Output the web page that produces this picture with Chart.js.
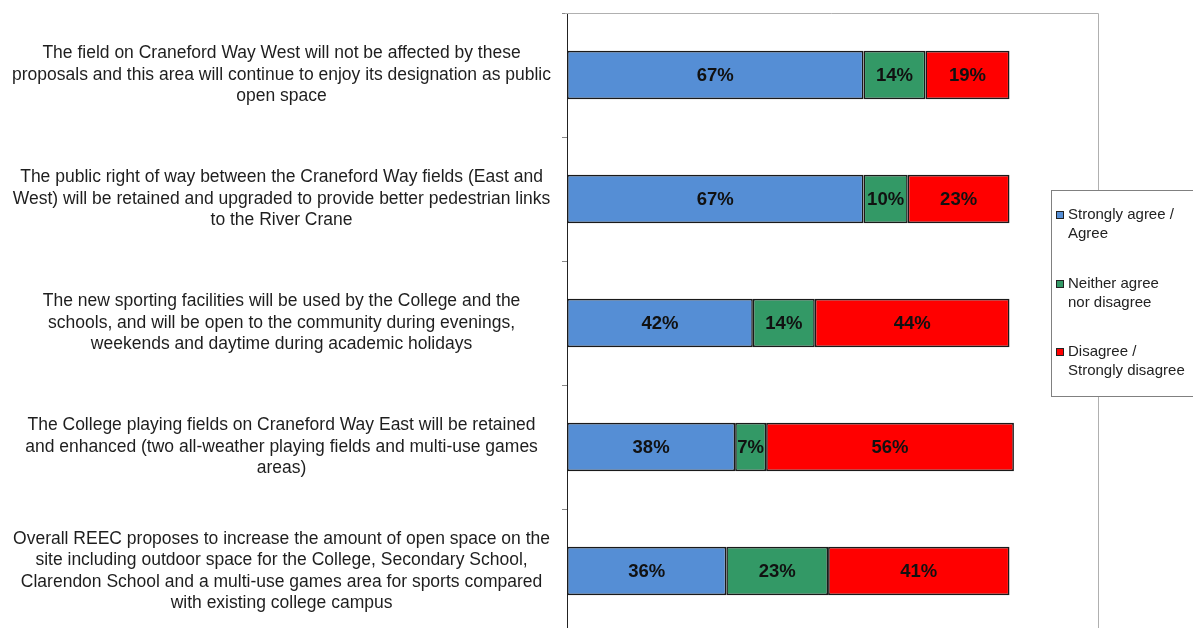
<!DOCTYPE html>
<html><head><meta charset="utf-8">
<script src="https://cdn.jsdelivr.net/npm/chart.js@4.4.1/dist/chart.umd.min.js"></script>
<style>html,body{margin:0;padding:0;background:#fff;overflow:hidden;}#wrap{width:1193px;height:640px;position:relative;}</style>
</head><body><div id="wrap"><canvas id="c" width="1193" height="640"></canvas></div>
<script>
const categories = [
  ["The field on Craneford Way West will not be affected by these","proposals and this area will continue to enjoy its designation as public","open space"],
  ["The public right of way between the Craneford Way fields (East and","West) will be retained and upgraded to provide better pedestrian links","to the River Crane"],
  ["The new sporting facilities will be used by the College and the","schools, and will be open to the community during evenings,","weekends and daytime during academic holidays"],
  ["The College playing fields on Craneford Way East will be retained","and enhanced (two all-weather playing fields and multi-use games","areas)"],
  ["Overall REEC proposes to increase the amount of open space on the","site including outdoor space for the College, Secondary School,","Clarendon School and a multi-use games area for sports compared","with existing college campus"]
];
const seriesNames = [["Strongly agree /","Agree"],["Neither agree","nor disagree"],["Disagree /","Strongly disagree"]];
const agree = [67, 67, 42, 38, 36];
const neither = [14, 10, 14, 7, 23];
const disagree = [19, 23, 44, 56, 41];
const colors = ["#558ED5", "#339966", "#FF0000"];
const FONT = "'Liberation Sans', Arial, sans-serif";

const valueLabels = {
  id: 'valueLabels',
  afterDatasetsDraw(chart) {
    const ctx = chart.ctx;
    ctx.save();
    ctx.font = "bold 18.5px " + FONT;
    ctx.fillStyle = "#111";
    ctx.textAlign = "center";
    ctx.textBaseline = "middle";
    chart.data.datasets.forEach((ds, i) => {
      chart.getDatasetMeta(i).data.forEach((el, j) => {
        const cx = (el.x + el.base) / 2;
        ctx.fillText(ds.data[j] + "%", cx, el.y + 1);
      });
    });
    ctx.restore();
  }
};

const frame = {
  id: 'frame',
  beforeDatasetsDraw(chart) {
    const {ctx, chartArea: a} = chart;
    ctx.save();
    ctx.strokeStyle = "#b0b0b0";
    ctx.lineWidth = 1;
    ctx.beginPath();
    ctx.moveTo(a.left - 2, a.top + 0.5);
    ctx.lineTo(a.right + 0.5, a.top + 0.5);
    ctx.lineTo(a.right + 0.5, a.bottom);
    ctx.stroke();
    ctx.restore();
  }
};

const boxLegend = {
  id: 'boxLegend',
  afterDraw(chart) {
    const ctx = chart.ctx;
    ctx.save();
    ctx.fillStyle = "#fff";
    ctx.fillRect(1051, 190, 150, 206);
    ctx.strokeStyle = "#808080";
    ctx.lineWidth = 1;
    ctx.strokeRect(1051.5, 190.5, 150, 206);
    ctx.font = "15px " + FONT;
    ctx.textBaseline = "middle";
    ctx.textAlign = "left";
    const ys = [215, 284, 352];
    chart.data.datasets.forEach((ds, i) => {
      const y = ys[i];
      ctx.fillStyle = ds.backgroundColor;
      ctx.fillRect(1057, y - 3, 6, 6);
      ctx.strokeStyle = "#222";
      ctx.strokeRect(1056.5, y - 3.5, 7, 7);
      ctx.fillStyle = "#222";
      const lines = seriesNames[i];
      lines.forEach((t, k) => ctx.fillText(t, 1068, y + k * 18.5));
    });
    ctx.restore();
  }
};

new Chart(document.getElementById('c'), {
  type: 'bar',
  data: {
    labels: categories,
    datasets: [
      {label: "Strongly agree / Agree", data: agree, backgroundColor: colors[0]},
      {label: "Neither agree nor disagree", data: neither, backgroundColor: colors[1]},
      {label: "Disagree / Strongly disagree", data: disagree, backgroundColor: colors[2]}
    ].map(d => Object.assign(d, {borderColor: "#1a1a1a", borderWidth: 1.6, borderSkipped: false, categoryPercentage: 1, barPercentage: 0.39}))
  },
  options: {
    indexAxis: 'y',
    responsive: false,
    animation: false,
    devicePixelRatio: 1,
    layout: {padding: {top: 13, right: 95, bottom: 7, left: 0}},
    plugins: {legend: {display: false}, tooltip: {enabled: false}},
    scales: {
      x: {stacked: true, min: 0, max: 120, display: false},
      y: {
        stacked: true,
        afterFit(s) { s.width = 567; s.paddingTop = 0; s.paddingBottom = 0; },
        border: {color: "#222", width: 1},
        grid: {drawOnChartArea: false, tickLength: 5, color: "#888", offset: true},
        ticks: {color: "#1e1e1e", font: {family: FONT, size: 17.5, lineHeight: 1.22}, crossAlign: 'center', padding: 11, autoSkip: false}
      }
    }
  },
  plugins: [frame, valueLabels, boxLegend]
});
</script>
</body></html>
